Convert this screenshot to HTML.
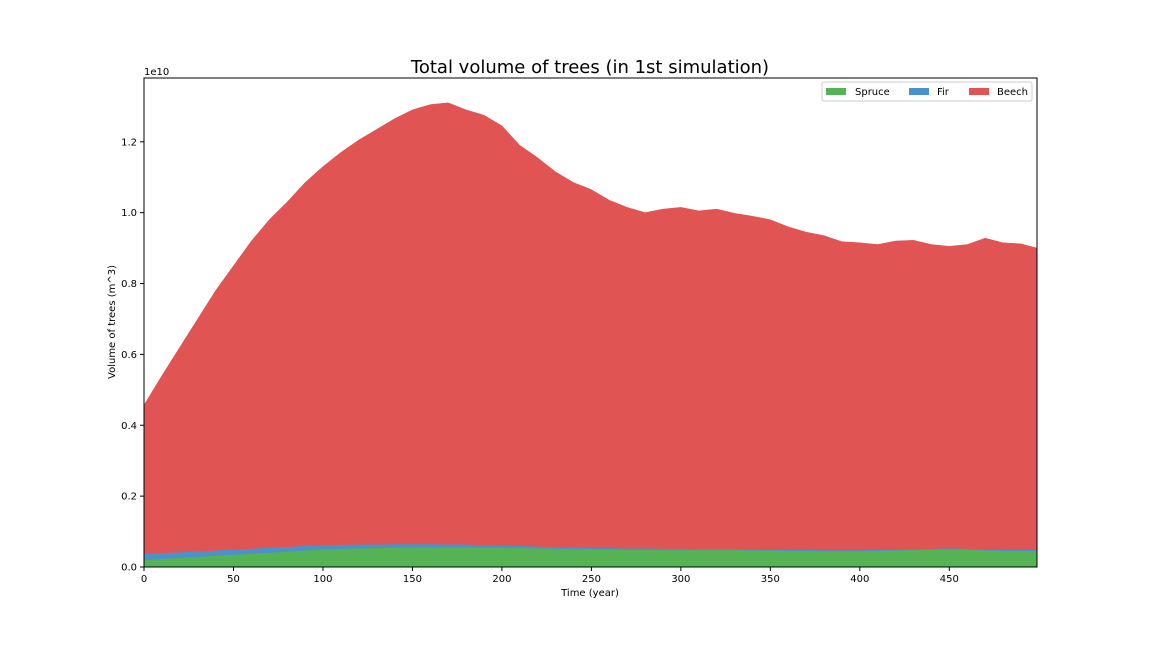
<!DOCTYPE html>
<html><head><meta charset="utf-8"><style>
body{margin:0;background:#fff;}
svg{display:block;font-family:"DejaVu Sans","Liberation Sans",sans-serif;}
</style></head><body>
<svg id="chart" width="1152" height="648" viewBox="0 0 1152 648">
<text x="590" y="73" text-anchor="middle" font-size="18" fill="#000">Total volume of trees (in 1st simulation)</text>
<g id="areas"></g>
<g id="axes"></g>
<text x="144" y="75" font-size="10">1e10</text>
<text x="590" y="596" text-anchor="middle" font-size="10">Time (year)</text>
<text transform="translate(115,322) rotate(-90)" text-anchor="middle" font-size="10">Volume of trees (m^3)</text>
<g>
<rect x="822" y="82" width="210" height="19" fill="#fff" fill-opacity="0.8" stroke="#ccc" rx="2"/>
<g><rect x="826" y="88" width="20" height="7" fill="#55b255"/><text x="855" y="95" font-size="10">Spruce</text></g>
<g><rect x="909" y="88" width="20" height="7" fill="#4a92c9"/><text x="937" y="95" font-size="10">Fir</text></g>
<g><rect x="969" y="88" width="20" height="7" fill="#e05454"/><text x="997" y="95" font-size="10">Beech</text></g>
</g>
</svg>
<script>
const years=[0,10,20,30,40,50,60,70,80,90,100,110,120,130,140,150,160,170,180,190,200,210,220,230,240,250,260,270,280,290,300,310,320,330,340,350,360,370,380,390,400,410,420,430,440,450,460,470,480,490,499];
const spruce=[0.20,0.23,0.26,0.29,0.32,0.35,0.38,0.41,0.44,0.47,0.50,0.52,0.53,0.54,0.55,0.56,0.56,0.56,0.56,0.55,0.55,0.54,0.53,0.52,0.51,0.50,0.50,0.49,0.49,0.48,0.48,0.48,0.48,0.48,0.47,0.47,0.46,0.46,0.45,0.45,0.45,0.46,0.47,0.48,0.49,0.50,0.49,0.47,0.46,0.46,0.46];
const fir=[0.17,0.17,0.16,0.16,0.15,0.15,0.14,0.14,0.13,0.13,0.12,0.11,0.11,0.10,0.10,0.09,0.09,0.08,0.08,0.07,0.06,0.06,0.05,0.05,0.05,0.04,0.04,0.04,0.04,0.04,0.04,0.03,0.03,0.03,0.03,0.03,0.03,0.03,0.03,0.03,0.03,0.03,0.03,0.03,0.03,0.03,0.03,0.03,0.03,0.03,0.03];
const beech=[4.20,5.00,5.78,6.55,7.33,8.00,8.68,9.25,9.73,10.25,10.68,11.07,11.41,11.71,12.00,12.25,12.40,12.46,12.26,12.13,11.84,11.30,10.97,10.58,10.29,10.11,9.81,9.62,9.47,9.58,9.63,9.54,9.59,9.47,9.40,9.30,9.11,8.96,8.87,8.70,8.67,8.61,8.70,8.71,8.58,8.52,8.58,8.78,8.66,8.63,8.51];
const xTicks=[0,50,100,150,200,250,300,350,400,450];
const yTicks=[0,0.2,0.4,0.6,0.8,1.0,1.2];
const NS="http://www.w3.org/2000/svg";
const L=144,R=1037,T=78,B=567,XMAX=499,YMAX=13.8; // y in 1e9
const sx=v=>L+(v/XMAX)*(R-L);
const sy=v=>B-(v/YMAX)*(B-T);
function mk(tag,attrs,parent){const e=document.createElementNS(NS,tag);for(const k in attrs)e.setAttribute(k,attrs[k]);parent.appendChild(e);return e;}
const areas=document.getElementById('areas');
const series=[{d:spruce,c:'#55b255',n:'area-spruce'},{d:fir,c:'#4a92c9',n:'area-fir'},{d:beech,c:'#e05454',n:'area-beech'}];
let base=years.map(()=>0);
series.forEach(s=>{
  const top=base.map((b,i)=>b+s.d[i]);
  let p='M'+years.map((y,i)=>sx(y)+','+sy(top[i])).join('L');
  for(let i=years.length-1;i>=0;i--)p+='L'+sx(years[i])+','+sy(base[i]);
  p+='Z';
  const e=mk('path',{d:p,fill:s.c,stroke:s.c,'stroke-width':0.5},areas);
  
  
  base=top;
});
const axes=document.getElementById('axes');
const fr=mk('rect',{x:L,y:T,width:R-L,height:B-T,fill:'none',stroke:'#000','stroke-width':1},axes);


xTicks.forEach(t=>{
  mk('line',{x1:sx(t),x2:sx(t),y1:B,y2:B+4,stroke:'#000'},axes);
  const tx=mk('text',{x:sx(t),y:B+15,'text-anchor':'middle','font-size':10},axes);
  tx.textContent=t;
  
  
});
yTicks.forEach(t=>{
  mk('line',{x1:L-4,x2:L,y1:sy(t*10),y2:sy(t*10),stroke:'#000'},axes);
  const tx=mk('text',{x:L-7,y:sy(t*10)+3.5,'text-anchor':'end','font-size':10},axes);
  tx.textContent=t.toFixed(1);
  
  
});
</script>
</body></html>
